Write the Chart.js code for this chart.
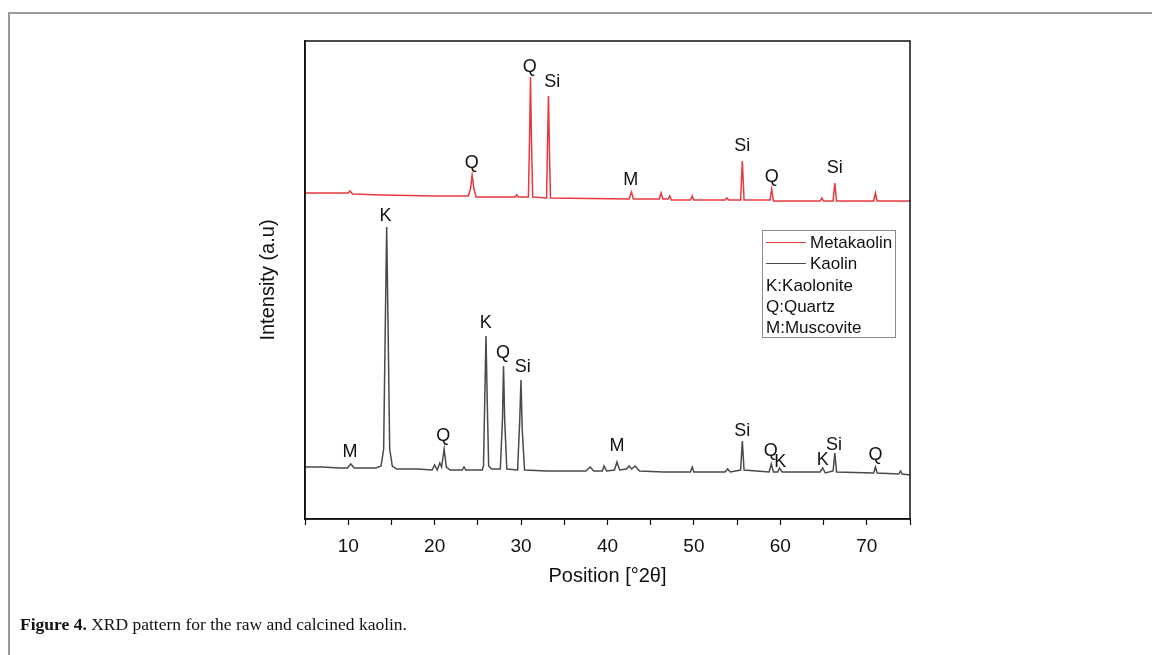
<!DOCTYPE html>
<html>
<head>
<meta charset="utf-8">
<script src="https://cdn.jsdelivr.net/npm/chart.js@4.4.1/dist/chart.umd.min.js"></script>
<style>
  html, body { margin: 0; padding: 0; background: #fff; }
  #page { position: relative; width: 1152px; height: 655px; overflow: hidden; font-family: "Liberation Sans", Arial, sans-serif; }
  #frameTop { position: absolute; left: 8px; top: 12px; width: 1144px; height: 0; border-top: 2px solid #9a9a9a; }
  #frameLeft { position: absolute; left: 8px; top: 12px; width: 0; height: 643px; border-left: 2px solid #9a9a9a; }
  #chart { position: absolute; left: 0; top: 0; }
  .legend-box { position: absolute; left: 762px; top: 230px; width: 134px; height: 108px; border: 1px solid #8a8a8a; font-size: 17px; color: #111; line-height: 21.3px; padding-top: 1px; box-sizing: border-box; }
  .legend-box div { display: flex; align-items: center; white-space: nowrap; padding-left: 3px; }
  .legend-line { display: inline-block; width: 40px; height: 0; margin-right: 4px; }
  #caption { position: absolute; left: 20px; top: 614px; font-family: "Liberation Serif", "DejaVu Serif", serif; font-size: 17.5px; color: #111; }
</style>
</head>
<body>
<div id="page">
  <div id="frameTop"></div>
  <div id="frameLeft"></div>
  <canvas id="chart" width="1152" height="655"></canvas>
  <div class="legend-box">
    <div><span class="legend-line" style="border-top:1.5px solid #e8383d"></span>Metakaolin</div>
    <div><span class="legend-line" style="border-top:1.5px solid #4a4a4a"></span>Kaolin</div>
    <div>K:Kaolonite</div>
    <div>Q:Quartz</div>
    <div>M:Muscovite</div>
  </div>
  <div id="caption"><b>Figure 4.</b> XRD pattern for the raw and calcined kaolin.</div>
</div>
<script>
// positions [°2θ] and stacked intensities (a.u.)
const kaolinPos = [5.0, 7.0, 9.0, 9.9, 10.3, 10.7, 12.0, 13.2, 13.8, 14.1, 14.3, 14.45, 14.6, 14.8, 15.1, 15.6, 18.0, 19.7, 20.0, 20.3, 20.6, 20.8, 21.1, 21.35, 21.8, 23.2, 23.4, 23.6, 25.5, 25.65, 25.8, 25.94, 26.08, 26.25, 26.6, 27.6, 27.85, 27.97, 28.1, 28.35, 29.6, 29.85, 29.99, 30.13, 30.4, 33.0, 37.5, 38.0, 38.4, 39.4, 39.6, 39.9, 40.8, 41.1, 41.4, 42.2, 42.5, 42.8, 43.2, 43.7, 46.5, 49.6, 49.8, 50.0, 53.6, 53.9, 54.2, 55.4, 55.6, 55.8, 58.7, 58.95, 59.2, 59.7, 59.9, 60.2, 64.6, 64.9, 65.2, 66.1, 66.3, 66.5, 70.8, 71.0, 71.2, 73.7, 73.9, 74.1, 75.0];
const kaolinInt = [52, 52, 51, 51, 55, 51, 51, 51, 53, 70, 200, 292, 200, 70, 53, 50, 50, 49, 54, 49, 56, 52, 70, 52, 49, 49, 52, 49, 49, 53, 120, 183, 120, 53, 50, 50, 100, 153, 100, 50, 49, 100, 139, 90, 49, 48, 48, 52, 48, 48, 53, 48, 49, 57, 49, 50, 53, 50, 53, 48, 47, 47, 52, 47, 47, 50, 47, 49, 78, 49, 47, 55, 47, 47, 51, 47, 47, 51, 46, 48, 66, 47, 46, 52, 46, 45, 48, 45, 44];

const metaPos = [5.0, 8.0, 10.0, 10.2, 10.5, 14.0, 20.0, 23.9, 24.15, 24.34, 24.55, 24.8, 29.3, 29.5, 29.7, 30.85, 30.98, 31.09, 31.2, 31.35, 32.95, 33.07, 33.17, 33.28, 33.4, 42.5, 42.77, 43.0, 46.0, 46.2, 46.4, 47.0, 47.2, 47.4, 49.6, 49.8, 50.0, 53.6, 53.8, 54.0, 55.4, 55.6, 55.8, 58.8, 59.0, 59.2, 64.6, 64.8, 65.0, 66.1, 66.3, 66.5, 70.8, 71.0, 71.2, 75.0];
const metaInt = [326, 326, 326, 328, 325, 324, 323, 323, 330, 344, 330, 322, 322, 324, 322, 322, 380, 442, 380, 322, 321, 380, 423, 370, 321, 320, 327, 320, 320, 326, 320, 320, 323, 319, 319, 323, 319, 319, 321, 319, 319, 358, 319, 319, 330, 318, 318, 321, 318, 318, 336, 318, 318, 326, 318, 318];

// phase labels: text, position, height
const metaLabelText = ['Q', 'Q', 'Si', 'M', 'Si', 'Q', 'Si'];
const metaLabelPos = [24.3, 31.0, 33.6, 42.7, 55.6, 59.0, 66.3];
const metaLabelInt = [356, 452, 437, 339, 373, 342, 351];

const kaolinLabelText = ['M', 'K', 'Q', 'K', 'Q', 'Si', 'M', 'Si', 'Q', 'K', 'K', 'Si', 'Q'];
const kaolinLabelPos = [10.2, 14.3, 21.0, 25.9, 27.9, 30.2, 41.1, 55.6, 58.9, 60.0, 64.9, 66.2, 71.0];
const kaolinLabelInt = [67, 303, 83, 196, 166, 152, 73, 88, 68, 57, 59, 74, 64];

const xTicksMin = 5, xTicksMax = 75;

const toPoints = (xs, ys) => xs.map((x, i) => ({ x: x, y: ys[i] }));

const frameBox = {
  id: 'frameBox',
  afterDraw(chart) {
    const { ctx, chartArea: a } = chart;
    ctx.save();
    ctx.strokeStyle = '#111';
    ctx.lineWidth = 1.5;
    ctx.strokeRect(a.left, a.top, a.right - a.left, a.bottom - a.top);
    ctx.restore();
  }
};

const peakLabels = {
  id: 'peakLabels',
  afterDatasetsDraw(chart) {
    const { ctx, scales } = chart;
    ctx.save();
    ctx.fillStyle = '#111';
    ctx.font = '18px "Liberation Sans", Arial, sans-serif';
    ctx.textAlign = 'center';
    ctx.textBaseline = 'middle';
    const draw = (texts, xs, ys) => texts.forEach((t, i) => {
      ctx.fillText(t, scales.x.getPixelForValue(xs[i]), scales.y.getPixelForValue(ys[i]));
    });
    draw(metaLabelText, metaLabelPos, metaLabelInt);
    draw(kaolinLabelText, kaolinLabelPos, kaolinLabelInt);
    ctx.restore();
  }
};

new Chart(document.getElementById('chart'), {
  type: 'line',
  data: {
    datasets: [
      {
        label: 'Metakaolin',
        data: toPoints(metaPos, metaInt),
        borderColor: '#e8383d',
        borderWidth: 1.5,
        pointRadius: 0,
        tension: 0
      },
      {
        label: 'Kaolin',
        data: toPoints(kaolinPos, kaolinInt),
        borderColor: '#4a4a4a',
        borderWidth: 1.5,
        pointRadius: 0,
        tension: 0
      }
    ]
  },
  options: {
    responsive: false,
    animation: false,
    devicePixelRatio: 1,
    layout: { padding: { left: 252, right: 242, top: 41, bottom: 63 } },
    plugins: {
      legend: { display: false },
      tooltip: { enabled: false }
    },
    scales: {
      x: {
        type: 'linear',
        min: xTicksMin,
        max: xTicksMax,
        afterFit: s => { s.height = 73; },
        border: { color: '#111', width: 1.5 },
        grid: { drawOnChartArea: false, tickLength: 6, color: '#111', tickWidth: 1.2 },
        ticks: {
          stepSize: 5,
          padding: 10,
          color: '#111',
          font: { family: '"Liberation Sans", Arial, sans-serif', size: 19 },
          maxRotation: 0,
          autoSkip: false,
          callback: v => (v % 10 === 0 ? v : '')
        },
        title: {
          display: true,
          text: 'Position [°2θ]',
          color: '#111',
          font: { family: '"Liberation Sans", Arial, sans-serif', size: 20 },
          padding: { top: 4, bottom: 4 }
        }
      },
      y: {
        min: 0,
        max: 478,
        afterFit: s => { s.width = 53; },
        border: { color: '#111', width: 1.5 },
        grid: { display: false },
        ticks: { display: false },
        title: {
          display: true,
          text: 'Intensity (a.u)',
          color: '#111',
          font: { family: '"Liberation Sans", Arial, sans-serif', size: 20 },
          padding: { top: 4, bottom: 4 }
        }
      }
    }
  },
  plugins: [frameBox, peakLabels]
});
</script>
</body>
</html>
